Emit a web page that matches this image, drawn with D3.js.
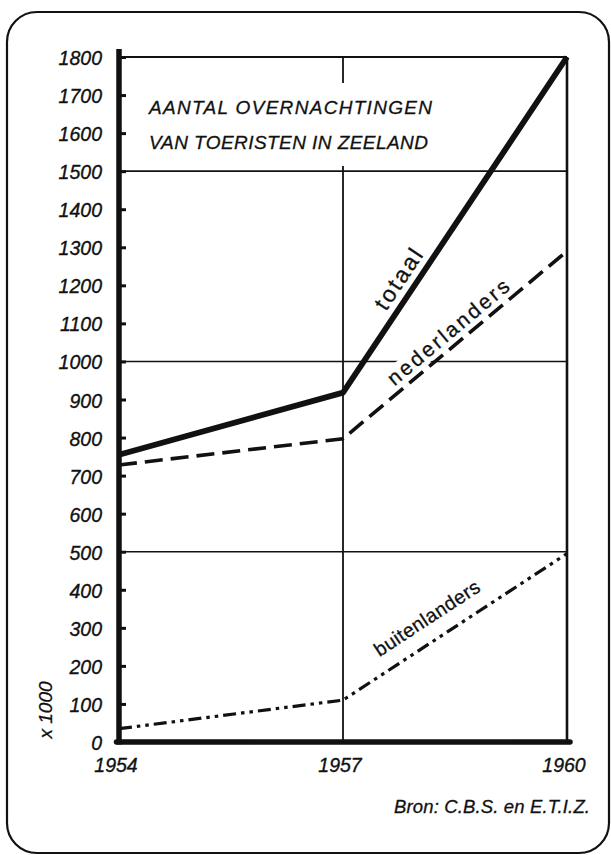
<!DOCTYPE html>
<html>
<head>
<meta charset="utf-8">
<script src="https://cdn.jsdelivr.net/npm/d3@7"></script>
<style>
  html, body { margin: 0; padding: 0; background: #fff; }
  svg { display: block; }
  text { font-family: "Liberation Sans", Arial, sans-serif; fill: #111; }
</style>
</head>
<body>
<svg id="chart" width="611" height="855"></svg>
<script>
// Overnachtingen (x 1000) per jaar
const years = [1954, 1957, 1960];
const totaal = [755, 918, 1800];
const nederlanders = [728, 797, 1290];
const buitenlanders = [35, 110, 495];

const yTicks = d3.range(0, 1801, 100);
const gridValues = [500, 1000, 1500, 1800];
const xTickLabels = ["1954", "1957", "1960"];

const titleLines = ["AANTAL  OVERNACHTINGEN", "VAN  TOERISTEN  IN  ZEELAND"];
const unitLabel = "x 1000";
const sourceLabel = "Bron: C.B.S. en E.T.I.Z.";

const svg = d3.select("#chart");
const ink = "#111";

const x = d3.scaleLinear().domain([1954, 1960]).range([119, 567]);
const y = d3.scaleLinear().domain([0, 1800]).range([742, 57]);

// outer rounded frame
svg.append("rect")
  .attr("x", 7).attr("y", 12).attr("width", 602).attr("height", 841)
  .attr("rx", 30).attr("ry", 30)
  .attr("fill", "none").attr("stroke", ink).attr("stroke-width", 2.2);

// horizontal grid lines
svg.append("g").selectAll("line").data(gridValues).join("line")
  .attr("x1", x(1954)).attr("x2", x(1960))
  .attr("y1", d => y(d)).attr("y2", d => y(d))
  .attr("stroke", ink).attr("stroke-width", d => d === 1800 ? 2.2 : 1.6);

// vertical grid lines at 1957 and 1960
svg.append("line")
  .attr("x1", x(1957)).attr("x2", x(1957)).attr("y1", y(0)).attr("y2", y(1800))
  .attr("stroke", ink).attr("stroke-width", 1.8);
svg.append("line")
  .attr("x1", x(1960)).attr("x2", x(1960)).attr("y1", y(0)).attr("y2", y(1800))
  .attr("stroke", ink).attr("stroke-width", 2.6);

// white panel behind the title
svg.append("rect")
  .attr("x", 140).attr("y", 83).attr("width", 300).attr("height", 83)
  .attr("fill", "#fff");

// title
svg.append("g").selectAll("text").data(titleLines).join("text")
  .attr("x", 149)
  .attr("y", (d, i) => 114 + i * 35)
  .attr("font-size", 19)
  .attr("font-style", "italic")
  .attr("stroke", ink).attr("stroke-width", 0.3)
  .attr("textLength", (d, i) => i === 0 ? 283 : 279)
  .attr("lengthAdjust", "spacing")
  .text(d => d);

// left axis with inward ticks
const yAxis = d3.axisRight(y).tickValues(yTicks).tickSize(7).tickFormat("");
const gy = svg.append("g").attr("transform", `translate(${x(1954)},0)`).call(yAxis);
gy.select(".domain").remove();
gy.selectAll(".tick line").attr("stroke", ink).attr("stroke-width", 3);
svg.append("line")
  .attr("x1", x(1954)).attr("x2", x(1954)).attr("y1", 49).attr("y2", y(0) + 2.5)
  .attr("stroke", ink).attr("stroke-width", 5.5);

// bottom axis
svg.append("line")
  .attr("x1", x(1954) - 2.5).attr("x2", x(1960) + 3).attr("y1", y(0)).attr("y2", y(0))
  .attr("stroke", ink).attr("stroke-width", 5.5).attr("stroke-linecap", "round");

// y tick labels
svg.append("g").selectAll("text").data(yTicks).join("text")
  .attr("x", 102)
  .attr("y", d => y(d) + 8)
  .attr("text-anchor", "end")
  .attr("font-size", 19.5)
  .attr("font-style", "italic")
  .attr("stroke", ink).attr("stroke-width", 0.35)
  .text(d => d);

// x tick labels
svg.append("g").selectAll("text").data(xTickLabels).join("text")
  .attr("x", d => x(+d) - 3)
  .attr("y", 772)
  .attr("text-anchor", "middle")
  .attr("font-size", 19.5)
  .attr("font-style", "italic")
  .attr("stroke", ink).attr("stroke-width", 0.35)
  .text(d => d);

// unit label
svg.append("text")
  .attr("transform", `translate(52,710) rotate(-90)`)
  .attr("text-anchor", "middle")
  .attr("font-size", 19)
  .attr("font-style", "italic")
  .attr("stroke", ink).attr("stroke-width", 0.3)
  .text(unitLabel);

// series lines
const line = d3.line().x((d, i) => x(years[i])).y(d => y(d));

// series labels, set along their line with a white backing
function seriesLabel(values, text, t, offset, len, size) {
  const x0 = x(years[1]), y0 = y(values[1]);
  const x1 = x(years[2]), y1 = y(values[2]);
  const ang = Math.atan2(y1 - y0, x1 - x0) * 180 / Math.PI;
  const cx = x0 + (x1 - x0) * t, cy = y0 + (y1 - y0) * t;
  const g = svg.append("g")
    .attr("transform", `translate(${cx},${cy}) rotate(${ang}) translate(0,${-offset})`);
  g.append("rect")
    .attr("x", -len / 2 - 3).attr("y", -size * 0.85).attr("width", len + 6).attr("height", size * 1.05)
    .attr("fill", "#fff");
  g.append("text")
    .attr("x", -len / 2).attr("y", 0)
    .attr("font-size", size)
    .attr("stroke", ink).attr("stroke-width", 0.3)
    .attr("textLength", len).attr("lengthAdjust", "spacing")
    .text(text);
}

seriesLabel(totaal, "totaal", 0.31, 9, 68, 23);
seriesLabel(nederlanders, "nederlanders", 0.51, 7, 152, 21);
seriesLabel(buitenlanders, "buitenlanders", 0.43, 16, 122, 19.5);

svg.append("path").datum(totaal).attr("d", line)
  .attr("fill", "none").attr("stroke", ink).attr("stroke-width", 5.8)
  .attr("stroke-linejoin", "round");

svg.append("path").datum(nederlanders).attr("d", line)
  .attr("fill", "none").attr("stroke", ink).attr("stroke-width", 3.6)
  .attr("stroke-dasharray", "18,8");

svg.append("path").datum(buitenlanders).attr("d", line)
  .attr("fill", "none").attr("stroke", ink).attr("stroke-width", 3.2)
  .attr("stroke-dasharray", "13,5,3.5,5,3.5,5");

// source
svg.append("text")
  .attr("x", 590).attr("y", 813)
  .attr("text-anchor", "end")
  .attr("font-size", 18.5)
  .attr("font-style", "italic")
  .attr("stroke", ink).attr("stroke-width", 0.3)
  .attr("textLength", 196).attr("lengthAdjust", "spacing")
  .text(sourceLabel);
</script>
</body>
</html>
